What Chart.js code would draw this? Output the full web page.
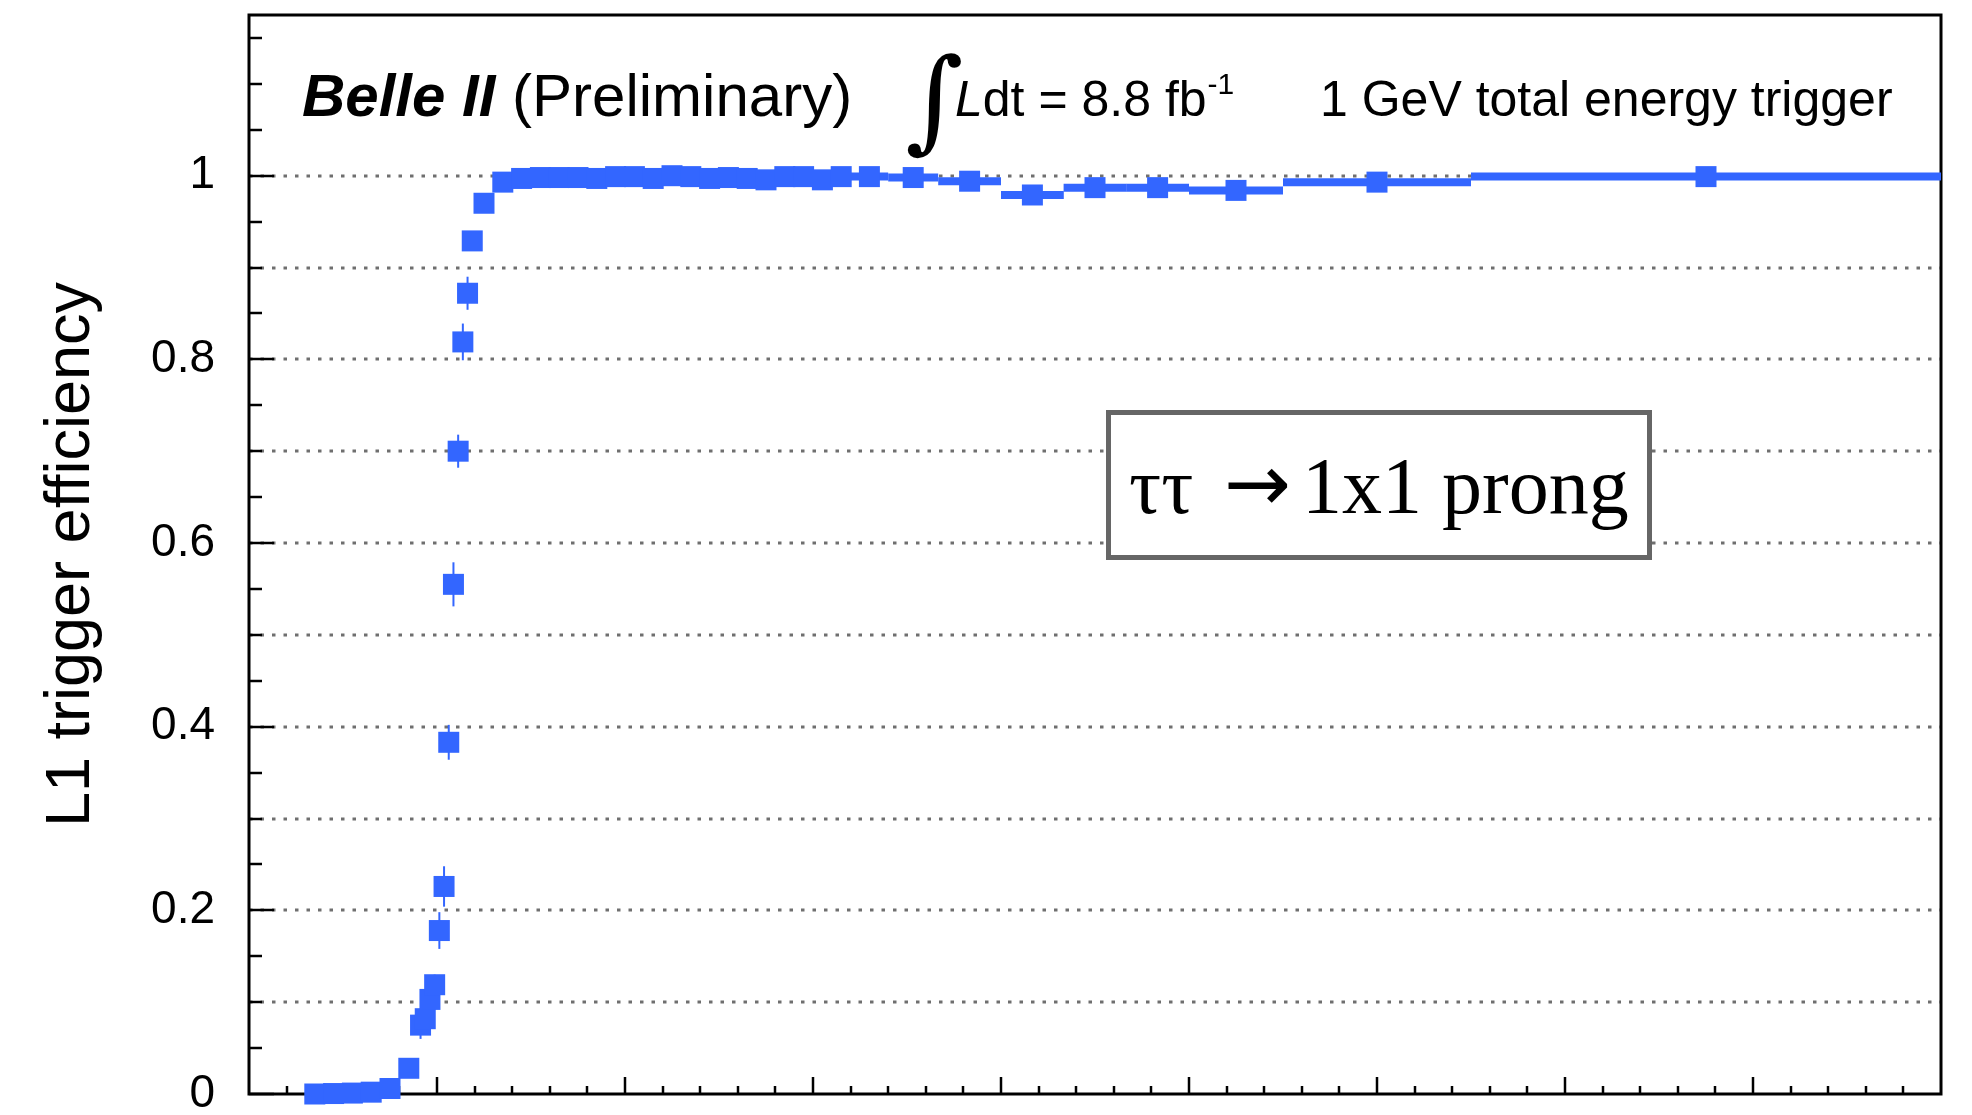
<!DOCTYPE html>
<html>
<head>
<meta charset="utf-8">
<title>L1 trigger efficiency</title>
<script src="https://cdn.jsdelivr.net/npm/chart.js@4.4.1/dist/chart.umd.min.js"></script>
<style>
  html, body { margin: 0; padding: 0; background: #fff; }
  canvas { display: block; }
</style>
</head>
<body>
<canvas id="eff" width="1972" height="1115"></canvas>
<script>
// bin centres (GeV), half bin widths, efficiency and its error
const energyGeV = [
  0.35, 0.45, 0.55, 0.65, 0.75, 0.85,
  0.9125, 0.9375, 0.9625, 0.9875, 1.0125, 1.0375, 1.0625, 1.0875,
  1.1125, 1.1375, 1.1625, 1.1875,
  1.25, 1.35, 1.45, 1.55, 1.65, 1.75, 1.85, 1.95, 2.05, 2.15, 2.25,
  2.35, 2.45, 2.55, 2.65, 2.75, 2.85, 2.95, 3.05, 3.15,
  3.3, 3.533, 3.833, 4.167, 4.5, 4.833, 5.25, 6.0, 7.75
];
const binHalfWidth = [
  0.05, 0.05, 0.05, 0.05, 0.05, 0.05,
  0.0125, 0.0125, 0.0125, 0.0125, 0.0125, 0.0125, 0.0125, 0.0125,
  0.0125, 0.0125, 0.0125, 0.0125,
  0.05, 0.05, 0.05, 0.05, 0.05, 0.05, 0.05, 0.05, 0.05, 0.05, 0.05,
  0.05, 0.05, 0.05, 0.05, 0.05, 0.05, 0.05, 0.05, 0.05,
  0.1, 0.133, 0.167, 0.167, 0.167, 0.167, 0.25, 0.5, 1.25
];
const efficiency = [
  0.000, 0.0005, 0.001, 0.002, 0.006, 0.028,
  0.075, 0.082, 0.103, 0.119, 0.178, 0.226, 0.383, 0.555,
  0.700, 0.819, 0.872, 0.929,
  0.970, 0.993, 0.997, 0.998, 0.998, 0.998, 0.997, 0.999, 0.999, 0.997, 1.000,
  0.999, 0.997, 0.998, 0.997, 0.9955, 0.999, 0.999, 0.9955, 0.999,
  0.999, 0.998, 0.994, 0.979, 0.987, 0.987, 0.984, 0.993, 0.999
];
const effError = [
  0.001, 0.001, 0.001, 0.001, 0.003, 0.006,
  0.015, 0.010, 0.010, 0.011, 0.020, 0.022, 0.019, 0.024,
  0.018, 0.020, 0.018, 0.010,
  0.006, 0.004, 0.002, 0.002, 0.002, 0.002, 0.002, 0.002, 0.002, 0.002, 0.001,
  0.002, 0.002, 0.002, 0.002, 0.003, 0.002, 0.002, 0.003, 0.002,
  0.002, 0.002, 0.003, 0.005, 0.004, 0.004, 0.004, 0.003, 0.001
];
const yTickValues = [0, 0.2, 0.4, 0.6, 0.8, 1];
const gridValues = [0.1, 0.2, 0.3, 0.4, 0.5, 0.6, 0.7, 0.8, 0.9, 1.0];
const xRange = [0, 9];
const yRange = [0, 1.175];

const BLUE = '#3366ff';

// ROOT-like frame, inner ticks, dotted grid, error bars and text
const rootStyle = {
  id: 'rootStyle',
  beforeDatasetsDraw(chart) {
    const { ctx, chartArea: a, scales: { x, y } } = chart;
    ctx.save();

    // dotted horizontal grid
    ctx.strokeStyle = '#6f6f6f';
    ctx.lineWidth = 3;
    ctx.setLineDash([3.5, 8]);
    gridValues.forEach(v => {
      const py = Math.round(y.getPixelForValue(v));
      ctx.beginPath();
      ctx.moveTo(a.left, py);
      ctx.lineTo(a.right, py);
      ctx.stroke();
    });
    ctx.setLineDash([]);

    // frame
    ctx.strokeStyle = '#000';
    ctx.lineWidth = 3;
    ctx.strokeRect(a.left, a.top, a.right - a.left, a.bottom - a.top);

    // y ticks (inside)
    ctx.lineWidth = 2.5;
    for (let k = 0; k * 0.05 <= yRange[1]; k++) {
      const py = Math.round(y.getPixelForValue(k * 0.05));
      const len = k % 4 === 0 ? 25 : 13;
      ctx.beginPath();
      ctx.moveTo(a.left, py);
      ctx.lineTo(a.left + len, py);
      ctx.stroke();
    }
    // x ticks (inside)
    for (let k = 1; k * 0.2 < xRange[1]; k++) {
      const px = Math.round(x.getPixelForValue(k * 0.2));
      const len = k % 5 === 0 ? 17 : 8;
      ctx.beginPath();
      ctx.moveTo(px, a.bottom);
      ctx.lineTo(px, a.bottom - len);
      ctx.stroke();
    }

    // error bars
    ctx.strokeStyle = BLUE;
    energyGeV.forEach((e, i) => {
      const py = y.getPixelForValue(efficiency[i]);
      ctx.lineWidth = 8;
      ctx.beginPath();
      ctx.moveTo(x.getPixelForValue(e - binHalfWidth[i]), py);
      ctx.lineTo(x.getPixelForValue(e + binHalfWidth[i]), py);
      ctx.stroke();
      const px = x.getPixelForValue(e);
      ctx.lineWidth = 2;
      ctx.beginPath();
      ctx.moveTo(px, y.getPixelForValue(efficiency[i] - effError[i]));
      ctx.lineTo(px, y.getPixelForValue(efficiency[i] + effError[i]));
      ctx.stroke();
    });
    ctx.restore();
  },
  afterDraw(chart) {
    const ctx = chart.ctx;
    ctx.save();
    ctx.fillStyle = '#000';
    ctx.textBaseline = 'alphabetic';

    ctx.font = 'italic bold 60px "Liberation Sans"';
    ctx.fillText('Belle II', 302, 116);
    const w = ctx.measureText('Belle II').width;
    ctx.font = '60px "Liberation Sans"';
    ctx.fillText(' (Preliminary)', 302 + w, 116);

    ctx.font = '112px "DejaVu Serif"';
    ctx.fillText('\u222B', 905, 138);
    ctx.font = 'italic 50px "Liberation Sans"';
    ctx.fillText('L', 955, 116);
    let cx = 955 + ctx.measureText('L').width;
    ctx.font = '50px "Liberation Sans"';
    ctx.fillText('dt = 8.8 fb', cx, 116);
    cx += ctx.measureText('dt = 8.8 fb').width;
    ctx.font = '30px "Liberation Sans"';
    ctx.fillText('-1', cx + 1, 94);

    ctx.font = '50px "Liberation Sans"';
    ctx.fillText('1 GeV total energy trigger', 1320, 116);

    // label box
    ctx.fillStyle = '#fff';
    ctx.fillRect(1106, 410, 546, 150);
    ctx.strokeStyle = '#666';
    ctx.lineWidth = 5;
    ctx.strokeRect(1108.5, 412.5, 541, 145);
    ctx.fillStyle = '#000';
    ctx.font = '80px "Liberation Serif"';
    ctx.fillText('\u03C4\u03C4', 1129, 513);
    ctx.font = '80px "DejaVu Sans"';
    ctx.fillText('\u2192', 1224, 511);
    ctx.font = '80px "Liberation Serif"';
    ctx.fillText('1x1 prong', 1302, 513);
    ctx.restore();
  }
};

new Chart(document.getElementById('eff'), {
  type: 'scatter',
  data: {
    datasets: [{
      data: energyGeV.map((e, i) => ({ x: e, y: efficiency[i] })),
      pointStyle: 'rect',
      pointRadius: 14.85,
      pointHoverRadius: 14.85,
      backgroundColor: BLUE,
      borderWidth: 0,
      clip: false
    }]
  },
  options: {
    responsive: false,
    animation: false,
    devicePixelRatio: 1,
    events: [],
    layout: { padding: { left: 0, top: 15, right: 31, bottom: 21 } },
    plugins: { legend: { display: false }, tooltip: { enabled: false } },
    scales: {
      x: { type: 'linear', min: xRange[0], max: xRange[1], display: false },
      y: {
        type: 'linear',
        min: yRange[0],
        max: yRange[1],
        afterBuildTicks: s => { s.ticks = yTickValues.map(v => ({ value: v })); },
        afterFit: s => { s.width = 249; s.paddingTop = 0; s.paddingBottom = 0; },
        grid: { display: false, drawTicks: false },
        border: { display: false },
        ticks: {
          padding: 34,
          color: '#000',
          font: { family: 'Liberation Sans', size: 46 },
          callback: v => String(v)
        },
        title: {
          display: true,
          text: 'L1 trigger efficiency',
          color: '#000',
          font: { family: 'Liberation Sans', size: 63 },
          padding: { top: 34, bottom: 0 }
        }
      }
    }
  },
  plugins: [rootStyle]
});
</script>
</body>
</html>
